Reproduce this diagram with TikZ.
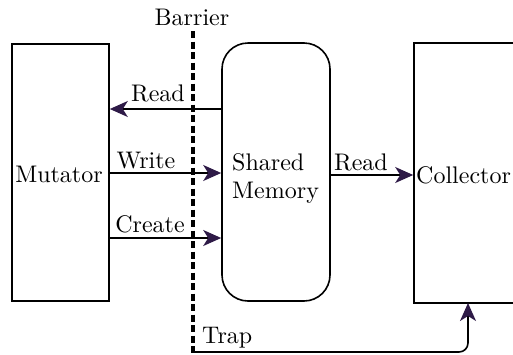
\documentclass[tikz,border=0pt]{standalone}
\usepackage{fontspec}
\setmainfont{lmroman10-regular}[Extension=.otf]
\usetikzlibrary{arrows.meta}
\definecolor{headc}{HTML}{2E1A47}
\begin{document}
\begin{tikzpicture}[x=1bp,y=-1bp,
  lbl/.style={inner sep=0pt,font=\fontsize{24bp}{28bp}\selectfont},
  boxs/.style={draw,line width=1.6bp,inner sep=0pt},
  conn/.style={line width=1.6bp,-{Stealth[length=18bp,width=16bp,inset=5bp,color=headc]}}]
\useasboundingbox (0,0) rectangle (513,354);
% boxes
\node[boxs,minimum width=97bp,minimum height=257bp] (mut) at (60.5,172.5) {};
\node[boxs,rounded corners=26bp,minimum width=108bp,minimum height=258bp] (sm) at (276,172) {};
\node[boxs,minimum width=110bp,minimum height=260bp] (col) at (469,173) {};
% texts
\node[lbl,anchor=base] (tmut) at (59,182) {Mutator};
\node[lbl,anchor=base west,align=left] (tsh) at (232,170) {Shared};
\node[lbl,anchor=base west,align=left] (tme) at (232,198) {Memory};
\node[lbl,anchor=base west] (tcol) at (416,183) {Collector};
\node[lbl,anchor=base] (tbar) at (192,25) {Barrier};
% barrier
\coordinate (b1) at (193,31);
\coordinate (b2) at (193,355);
\draw[line width=4bp,dash pattern=on 7bp off 3.5bp] (b1) -- (b2);
% connectors
\coordinate (r1s) at (sm.west |- 0,109);
\coordinate (r1e) at (mut.east |- 0,109);
\draw[conn] (r1s) -- (r1e);
\node[lbl,anchor=base] (tr1) at (158,101) {Read};
\coordinate (ws) at (mut.east |- 0,173);
\coordinate (we) at (sm.west |- 0,173);
\draw[conn] (ws) -- (we);
\node[lbl,anchor=base] (tw) at (146,168) {Write};
\coordinate (cs) at (mut.east |- 0,238);
\coordinate (ce) at (sm.west |- 0,238);
\draw[conn] (cs) -- (ce);
\node[lbl,anchor=base] (tc) at (150,232) {Create};
\coordinate (r2s) at (sm.east |- 0,175);
\coordinate (r2e) at (col.west |- 0,175);
\draw[conn] (r2s) -- (r2e);
\node[lbl,anchor=base] (tr2) at (361,170) {Read};
\coordinate (ts) at (193,352);
\coordinate (te) at (468,303);
\draw[conn,rounded corners=9bp] (ts) -- (468,352) -- (te);
\node[lbl,anchor=base west] (tt) at (202,343) {Trap};
\end{tikzpicture}
\end{document}
